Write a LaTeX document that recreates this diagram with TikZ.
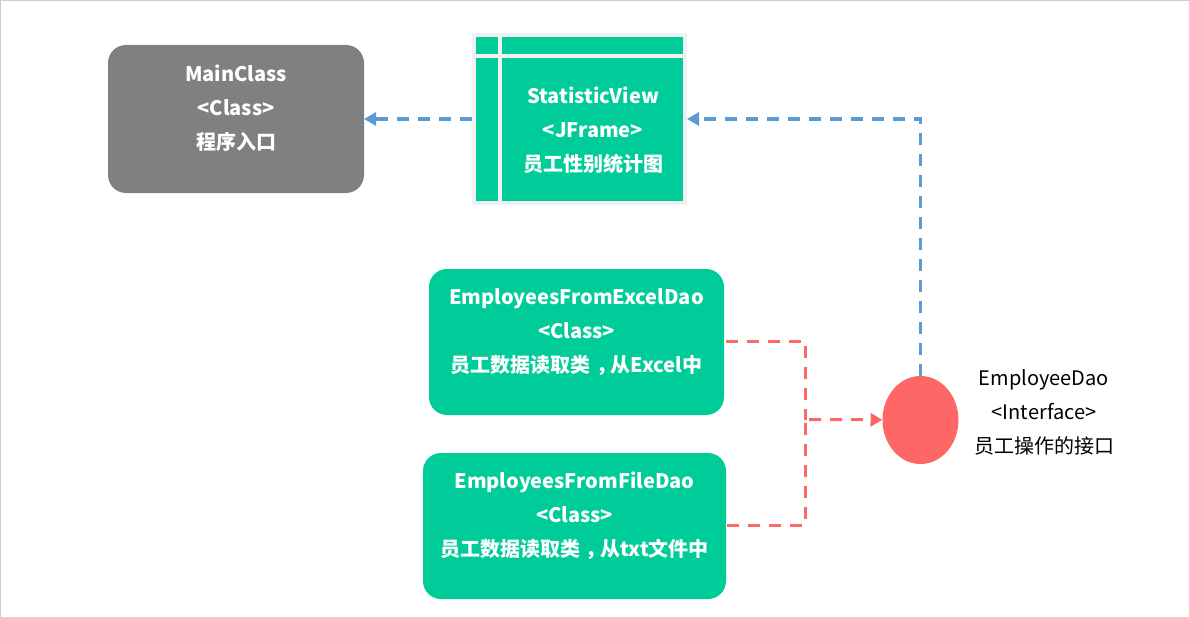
\documentclass[tikz,border=0pt]{standalone}
\usepackage{fontspec}
\setmainfont{Noto Sans CJK SC}
\usepackage{tikz}
\usetikzlibrary{positioning}
\usetikzlibrary{arrows.meta}
\usetikzlibrary{shapes.geometric}
\definecolor{boxgreen}{HTML}{00CC99}
\definecolor{boxgrey}{HTML}{808080}
\definecolor{framegrey}{HTML}{F0F0F0}
\definecolor{linkblue}{HTML}{5B9BD5}
\definecolor{linkred}{HTML}{FF6666}
\newcommand{\midcomma}{\hspace*{4pt}，\hspace*{-4pt}}
\tikzset{
    class box/.style={rectangle, rounded corners=13.5pt, fill=boxgreen, text=white, align=center, outer sep=0pt, inner sep=0pt, font=\bfseries\fontsize{15}{25.5}\selectfont},
    view line/.style={draw=framegrey, line width=3pt},
    link tip/.style={-{Triangle[length=9pt,width=9.75pt]}},
    blue link/.style={draw=linkblue, line width=2.25pt, dash pattern=on 9pt off 6.75pt, link tip},
    red link/.style={draw=linkred, line width=2.25pt, dash pattern=on 9pt off 6.75pt},
}
\begin{document}
\begin{tikzpicture}[x=0.75pt,y=-0.75pt]
        \useasboundingbox (0,0) rectangle (1189,617);
        \draw [black!20, line width=0.75pt] (0.5,617) -- (0.5,0.5) -- (1189,0.5);
        \node (main class) at (236,119) [class box, fill=boxgrey, minimum width=192pt, minimum height=111pt] {MainClass \\ <Class> \\ 程序入口 \\[-8pt] \mbox{}};
        \node (statistic view) [class box, rounded corners=0pt, draw=framegrey, line width=3pt, outer sep=1.5pt, minimum width=158.25pt, minimum height=126pt, right=81pt of main class] {};
        \draw [view line] (473.5,56) -- (685.5,56);
        \draw [view line] (499.7,35) -- (499.7,203);
        \node (statistic text) at (593,130) [class box, fill=none] {StatisticView \\ <JFrame> \\ 员工性别统计图};
        \node (excel dao) [class box, minimum width=221.25pt, minimum height=109.5pt, below=48pt of statistic view, xshift=-2.25pt] {EmployeesFromExcelDao \\ <Class> \\ 员工数据读取类\midcomma 从Excel中 \\[-9pt] \mbox{}};
        \node (file dao) [class box, minimum width=227.25pt, minimum height=109.5pt, below=28.5pt of excel dao, xshift=-1.5pt] {EmployeesFromFileDao \\ <Class> \\ 员工数据读取类\midcomma 从txt文件中 \\[-8pt] \mbox{}};
        \node (employee dao) at (920.5,420) [ellipse, fill=linkred, minimum width=57pt, minimum height=66pt, inner sep=0pt, outer sep=0pt] {};
        \node (employee dao text) at (1044,412) [align=center, font=\fontsize{15}{25.5}\selectfont] {EmployeeDao \\ <Interface> \\ 员工操作的接口};
        \coordinate (red join) at (805,419.5);
        \draw [red link] ([xshift=1.5pt]excel dao.east |- 0,341) -| (red join);
        \draw [red link] ([xshift=0.75pt]file dao.east |- 0,525) -| (red join);
        \draw [red link, link tip] ([xshift=3pt]red join) -- (employee dao);
        \draw [blue link] (employee dao) |- (statistic view.east);
        \draw [blue link] (statistic view.west) -- (main class.east);
    \end{tikzpicture}
\end{document}
